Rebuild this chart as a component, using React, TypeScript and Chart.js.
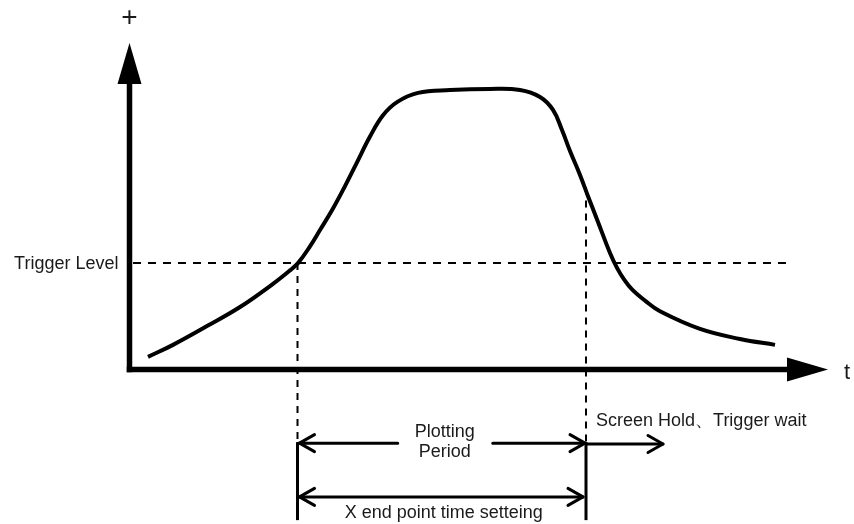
import { useEffect, useRef } from "react";
import { Chart, registerables } from "chart.js";

Chart.register(...registerables);

// Signal curve (time units, signal level units; plateau ≈ 100)
const timeValues = [3.7, 8.7, 15.5, 22.1, 28.7, 32.1, 33.7, 36.0, 38.1, 40.7, 43.1, 45.5, 48.1, 50.7, 53.5, 57.7, 64.1, 72.1, 78.1, 82.1, 84.7, 86.5, 88.1, 90.1, 91.7, 93.7, 96.1, 97.5, 98.9, 100.5, 103.1, 106.1, 114.1, 122.1, 129.1];
const signalValues = [4.5, 8.8, 15.5, 22.3, 30.6, 35.4, 38.0, 43.7, 49.8, 57.5, 65.5, 74.0, 83.2, 90.8, 95.5, 98.8, 99.8, 100.2, 99.8, 97.3, 92.7, 85.5, 78.0, 69.5, 61.9, 52.7, 41.6, 36.3, 32.2, 28.6, 24.6, 20.8, 14.5, 10.9, 8.8];

const triggerLevel = 38;
const triggerLineRange = [0.7, 131.5];
const plotStart = 33.6;
const plotEnd = 91.3;
const holdEnd = 106.7;
const rightGuideTop = 65;
const guideBottom = -53.8;
const periodRow = -26.3;
const settingRow = -45.5;
const holdRow = -26.6;
const axisTimeMax = 139.7;
const axisSignalMax = 116.6;
const axisRange = { xMin: -25.9, xMax: 144.9, yMin: -55.18, yMax: 131.96 };

const yAxisLabel = "+";
const xAxisLabel = "t";
const triggerLabel = "Trigger Level";
const periodLabel = ["Plotting", "Period"];
const settingLabel = "X end point time setteing";
const holdLabel = "Screen Hold、Trigger wait";

const FONT = '"Liberation Sans", Arial, Helvetica, sans-serif';

function chevron(ctx: CanvasRenderingContext2D, tipX: number, y: number, dir: number) {
  ctx.beginPath();
  ctx.moveTo(tipX - dir * 15, y - 8.5);
  ctx.lineTo(tipX, y);
  ctx.lineTo(tipX - dir * 15, y + 8.5);
  ctx.stroke();
}

const diagramPlugin = {
  id: "diagram",
  afterDatasetsDraw(chart: any) {
    const ctx: CanvasRenderingContext2D = chart.ctx;
    const xs = chart.scales.x;
    const ys = chart.scales.y;
    const X = (v: number) => xs.getPixelForValue(v);
    const Y = (v: number) => ys.getPixelForValue(v);
    const ox = X(0);
    const oy = Y(0);
    ctx.save();
    ctx.fillStyle = "#000";
    ctx.strokeStyle = "#000";

    // axes
    const aw = 5.5;
    const headLen = 41;
    const headHalf = 12;
    const yTip = Y(axisSignalMax);
    const xTip = X(axisTimeMax);
    ctx.fillRect(ox - aw / 2, yTip + headLen - 1, aw, oy + aw / 2 - (yTip + headLen - 1));
    ctx.fillRect(ox - aw / 2, oy - aw / 2, xTip - headLen + 1 - (ox - aw / 2), aw);
    ctx.beginPath();
    ctx.moveTo(ox, yTip);
    ctx.lineTo(ox - headHalf, yTip + headLen);
    ctx.lineTo(ox + headHalf, yTip + headLen);
    ctx.closePath();
    ctx.fill();
    ctx.beginPath();
    ctx.moveTo(xTip, oy);
    ctx.lineTo(xTip - headLen, oy - headHalf);
    ctx.lineTo(xTip - headLen, oy + headHalf);
    ctx.closePath();
    ctx.fill();

    // solid guide verticals
    ctx.lineWidth = 3;
    ctx.lineCap = "butt";
    [plotStart, plotEnd].forEach((t) => {
      ctx.beginPath();
      ctx.moveTo(X(t), Y(periodRow) - 1);
      ctx.lineTo(X(t), Y(guideBottom));
      ctx.stroke();
    });

    // Plotting Period arrow
    const x1 = X(plotStart);
    const x2 = X(plotEnd);
    const yP = Y(periodRow);
    const cx = (x1 + x2) / 2 + 3;
    ctx.lineWidth = 3;
    ctx.lineCap = "round";
    ctx.lineJoin = "round";
    ctx.beginPath();
    ctx.moveTo(x1 + 1, yP);
    ctx.lineTo(cx - 47, yP);
    ctx.moveTo(cx + 48, yP);
    ctx.lineTo(x2 - 1, yP);
    ctx.stroke();
    chevron(ctx, x1 + 2, yP, -1);
    chevron(ctx, x2 - 1, yP, 1);

    // X end point arrow
    const yS = Y(settingRow);
    ctx.beginPath();
    ctx.moveTo(x1 + 1, yS);
    ctx.lineTo(x2 - 3, yS);
    ctx.stroke();
    chevron(ctx, x1 + 2, yS, -1);
    chevron(ctx, x2 - 3, yS, 1);

    // Screen hold arrow
    const yH = Y(holdRow);
    const xh = X(holdEnd);
    ctx.beginPath();
    ctx.moveTo(x2 + 1, yH);
    ctx.lineTo(xh, yH);
    ctx.stroke();
    chevron(ctx, xh, yH, 1);

    // texts
    ctx.fillStyle = "#1a1a1a";
    ctx.textBaseline = "middle";
    ctx.font = `18px ${FONT}`;
    ctx.textAlign = "right";
    ctx.fillText(triggerLabel, ox - 11, Y(triggerLevel) + 1);
    ctx.textAlign = "center";
    ctx.fillText(periodLabel[0], cx, yP - 11);
    ctx.fillText(periodLabel[1], cx, yP + 9);
    ctx.fillText(settingLabel, (x1 + x2) / 2 + 2, yS + 16);
    ctx.textAlign = "left";
    ctx.fillText(holdLabel, x2 + 10, yH - 23);
    ctx.textAlign = "center";
    ctx.font = `28px ${FONT}`;
    ctx.fillText(yAxisLabel, ox, 18);
    ctx.font = `22px ${FONT}`;
    ctx.fillText(xAxisLabel, xTip + 19, oy + 3);
    ctx.restore();
  },
};

export default function App() {
  const ref = useRef<HTMLCanvasElement | null>(null);
  useEffect(() => {
    if (!ref.current) return;
    const curve = timeValues.map((t, i) => ({ x: t, y: signalValues[i] }));
    const dashStyle = {
      borderColor: "#000",
      borderWidth: 2,
      pointRadius: 0,
      fill: false,
      tension: 0,
    };
    const chart = new Chart(ref.current, {
      type: "line",
      data: {
        datasets: [
          {
            ...dashStyle,
            borderDash: [8, 7],
            data: [
              { x: triggerLineRange[0], y: triggerLevel },
              { x: triggerLineRange[1], y: triggerLevel },
            ],
          },
          {
            ...dashStyle,
            borderDash: [7, 6],
            data: [
              { x: plotStart, y: triggerLevel },
              { x: plotStart, y: guideBottom },
            ],
          },
          {
            ...dashStyle,
            borderDash: [7, 6],
            data: [
              { x: plotEnd, y: rightGuideTop },
              { x: plotEnd, y: guideBottom },
            ],
          },
          {
            data: curve,
            borderColor: "#000",
            borderWidth: 4,
            pointRadius: 0,
            fill: false,
            tension: 0.4,
            borderCapStyle: "butt",
            borderJoinStyle: "round",
          },
        ],
      },
      options: {
        animation: false,
        responsive: false,
        maintainAspectRatio: false,
        layout: { padding: 0 },
        plugins: { legend: { display: false }, tooltip: { enabled: false }, title: { display: false } },
        scales: {
          x: { type: "linear", display: false, min: axisRange.xMin, max: axisRange.xMax },
          y: { type: "linear", display: false, min: axisRange.yMin, max: axisRange.yMax },
        },
      },
      plugins: [diagramPlugin],
    } as any);
    return () => chart.destroy();
  }, []);
  return (
    <div style={{ position: "fixed", left: 0, top: 0, width: 854, height: 524, background: "#fff" }}>
      <canvas ref={ref} width={854} height={524} style={{ display: "block" }} />
    </div>
  );
}
